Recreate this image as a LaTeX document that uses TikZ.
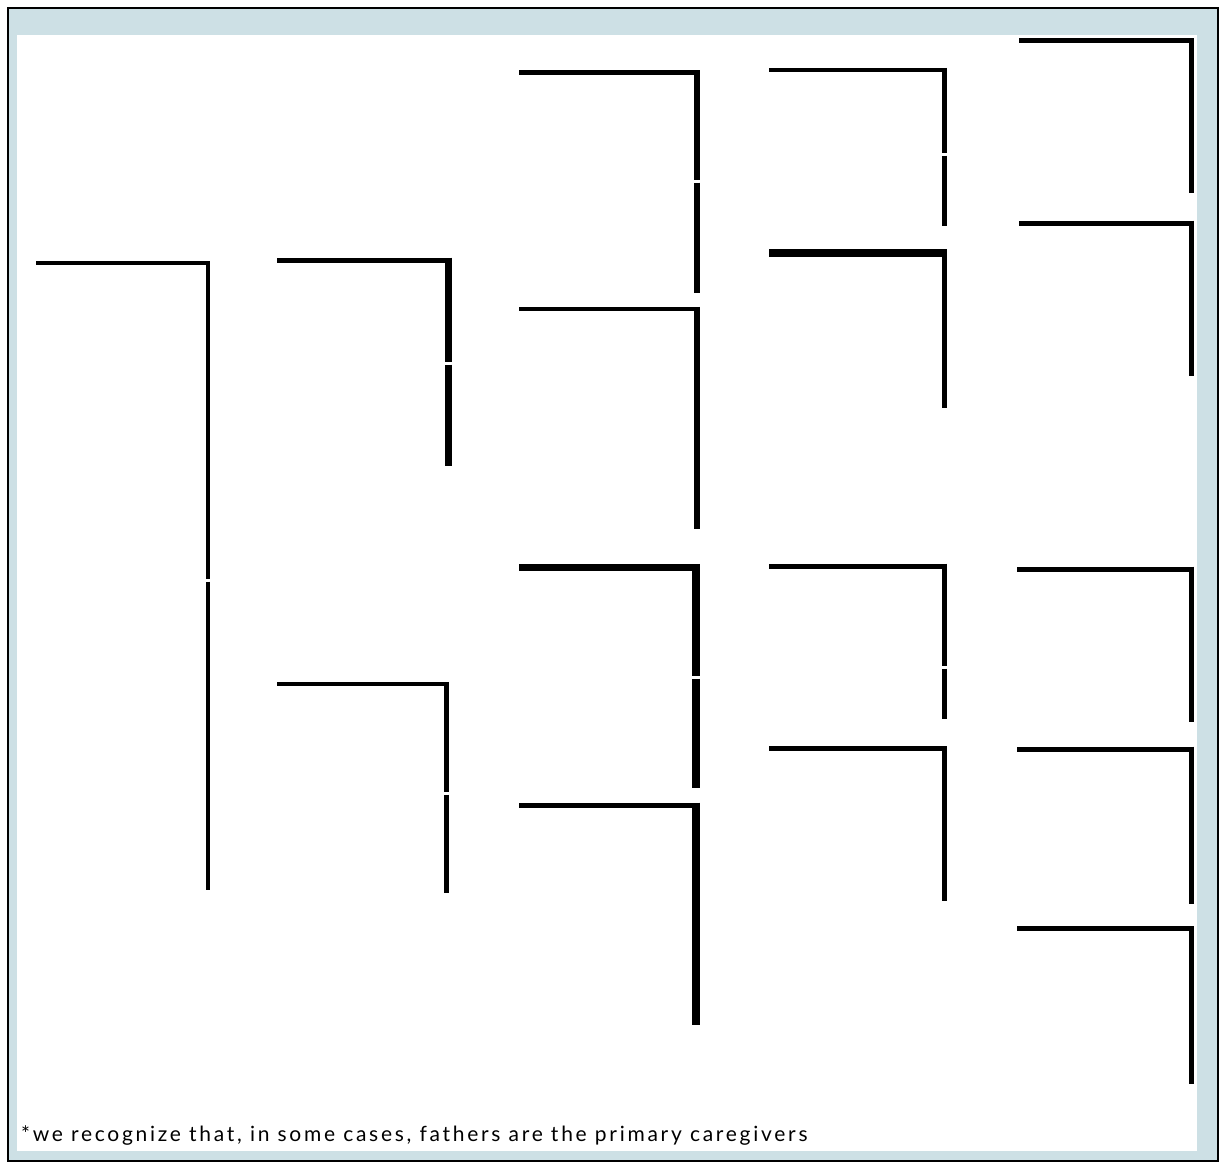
\documentclass[tikz,border=0pt]{standalone}
\usepackage{fontspec}
\newfontfamily\notefont[LetterSpace=13]{Lato}
\definecolor{framebg}{RGB}{205,224,229}

\begin{document}
\begin{tikzpicture}[
  x=1pt, y=-1pt,
  bar/.style={line width=#1, black},
]

% --- Frame ---
\useasboundingbox (0,0) rectangle (1220,1163);
\fill[framebg] (8,8) rectangle (1218,1161);
\fill[white] (17,35) rectangle (1197,1151);
\draw[line width=1.6pt] (8,8) rectangle (1218,1161);

% --- Brackets: left end / vertical x / top y / bottom y / break y (0 = none) / widths ---
\foreach \xl/\xv/\yh/\yb/\ymid/\wh/\wv in {
  % generation 1
  36/208/263/890/580/4/4.5,
  % generation 2
  277/448/260/466/363/5/7,
  277/446.5/684/893/793/4.5/5.5,
  % generation 3
  519/697/72.5/293/181/4.5/5.5,
  519/697/309/529/0/4.5/5.5,
  519/695.5/567.5/788/677/7.5/8,
  519/695.5/805/1025/0/5/8,
  % generation 4
  769/944.5/70/226/154/4.5/4.5,
  769/944.5/253/408/0/7.5/4.5,
  769/944/566/719/667/5/5,
  769/944/748.5/901/0/4.5/5,
  % generation 5
  1019/1191.5/40.5/193/0/5/5,
  1019/1191.5/223/376/0/5/5,
  1017/1191.5/569/722/0/5/5.5,
  1017/1191.5/749/904/0/5/5.5,
  1017/1191.5/928.5/1084/0/4.5/5.5%
} {
  \draw[bar=\wh pt] (\xl,\yh) -- (\xv+\wv/2,\yh);
  \ifnum\ymid=0
    \draw[bar=\wv pt] (\xv,\yh-\wh/2) -- (\xv,\yb);
  \else
    \draw[bar=\wv pt] (\xv,\yh-\wh/2) -- (\xv,\ymid-1.5);
    \draw[bar=\wv pt] (\xv,\ymid+1.5) -- (\xv,\yb);
  \fi
}

% --- Footnote ---
\node[anchor=base west, inner sep=0pt,
  font=\notefont\fontsize{21}{24}\selectfont] (note) at (21,1141)
  {*we recognize that, in some cases, fathers are the primary caregivers};

\end{tikzpicture}
\end{document}
